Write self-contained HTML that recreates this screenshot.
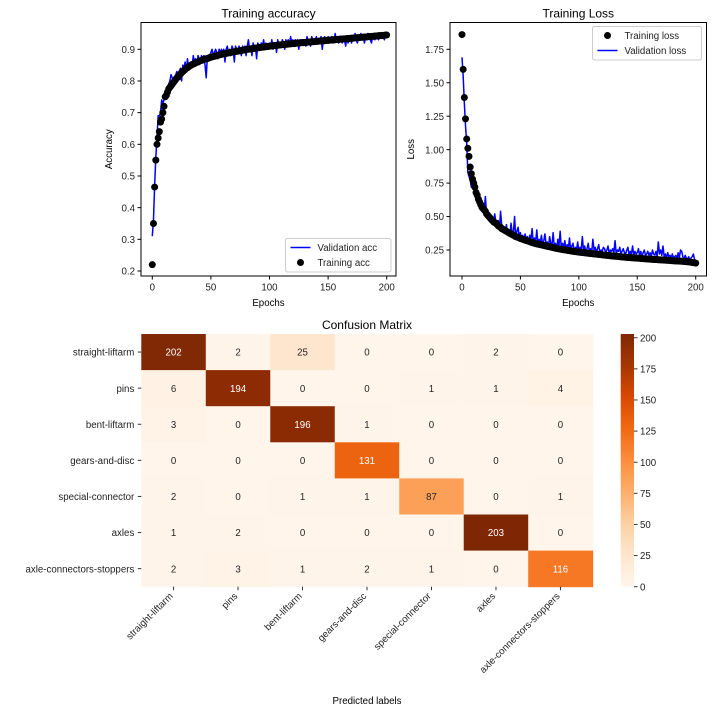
<!DOCTYPE html>
<html><head><meta charset="utf-8">
<style>
html,body{margin:0;padding:0;background:#fff;}
svg{display:block;font-family:"Liberation Sans","DejaVu Sans",sans-serif;}
</style></head>
<body>
<svg id="fig" width="712" height="712" viewBox="0 0 712 712" xmlns="http://www.w3.org/2000/svg"></svg>
<script>
const trainAcc=[.22,.35,.465,.55,.60,.62,.64,.67,.68,.70,
.72,.75,.755,.765,.775,.78,.785,.79,.795,.80,
.805,.81,.812,.818,.822,.826,.83,.833,.836,.84,
.842,.845,.847,.85,.852,.853,.855,.857,.859,.86,
.862,.864,.865,.866,.868,.869,.87,.871,.872,.874,
.875,.876,.877,.878,.879,.88,.881,.882,.883,.884,
.885,.886,.886,.887,.888,.889,.889,.89,.891,.892,
.892,.893,.894,.894,.895,.896,.896,.897,.898,.898,
.899,.9,.9,.901,.901,.902,.902,.903,.904,.904,
.905,.905,.906,.906,.907,.907,.908,.908,.909,.909,
.91,.91,.911,.911,.912,.912,.912,.913,.913,.914,
.914,.915,.915,.915,.916,.916,.917,.917,.917,.918,
.918,.918,.919,.919,.92,.92,.92,.921,.921,.921,
.922,.922,.922,.923,.923,.923,.924,.924,.924,.925,
.925,.925,.926,.926,.926,.927,.927,.927,.928,.928,
.928,.929,.929,.929,.93,.93,.93,.931,.931,.931,
.932,.932,.932,.933,.933,.933,.934,.934,.934,.935,
.935,.935,.936,.936,.936,.937,.937,.937,.938,.938,
.938,.939,.939,.939,.94,.94,.94,.941,.941,.941,
.942,.942,.942,.943,.943,.943,.944,.944,.944,.945,.945];
const valAcc=[.31,.36,.47,.56,.62,.69,.69,.70,.74,.73,
.74,.75,.76,.78,.79,.80,.82,.81,.80,.79,
.82,.83,.82,.83,.84,.80,.85,.84,.86,.83,
.87,.84,.85,.86,.85,.88,.86,.87,.85,.88,
.87,.86,.88,.87,.88,.85,.81,.88,.87,.88,
.89,.90,.88,.89,.90,.89,.87,.90,.89,.90,
.89,.90,.86,.90,.91,.89,.90,.88,.91,.90,
.86,.91,.90,.89,.91,.90,.88,.91,.90,.91,
.88,.91,.93,.90,.91,.88,.92,.90,.91,.87,
.92,.91,.90,.92,.91,.93,.90,.92,.91,.90,
.92,.91,.93,.90,.92,.92,.89,.93,.91,.92,
.91,.93,.92,.90,.93,.92,.93,.91,.94,.92,
.93,.91,.93,.92,.93,.90,.93,.92,.93,.92,
.93,.91,.94,.92,.93,.91,.94,.93,.92,.93,
.94,.92,.93,.93,.94,.90,.93,.94,.92,.93,
.94,.92,.93,.94,.93,.92,.95,.93,.94,.92,
.93,.94,.92,.94,.93,.91,.94,.92,.93,.94,
.92,.94,.93,.95,.93,.92,.94,.93,.95,.93,
.94,.92,.94,.93,.95,.94,.93,.92,.94,.95,
.93,.94,.95,.93,.94,.94,.95,.94,.93,.95,.94];
const trainLoss=[1.86,1.60,1.39,1.23,1.08,1.01,.95,.87,.82,.78,
.75,.72,.68,.66,.63,.61,.59,.57,.56,.55,
.54,.52,.51,.50,.49,.48,.47,.46,.455,.45,
.44,.43,.425,.42,.41,.405,.40,.395,.39,.385,
.38,.375,.37,.365,.36,.355,.35,.347,.344,.34,
.336,.333,.33,.327,.324,.321,.318,.315,.312,.309,
.306,.303,.30,.298,.296,.294,.292,.29,.288,.286,
.284,.282,.28,.278,.276,.274,.272,.27,.268,.266,
.264,.262,.26,.258,.257,.255,.254,.252,.251,.249,
.248,.246,.245,.243,.242,.241,.239,.238,.237,.236,
.234,.233,.232,.231,.23,.229,.228,.227,.226,.225,
.224,.223,.222,.221,.22,.219,.218,.217,.216,.215,
.214,.213,.212,.211,.21,.209,.208,.207,.206,.205,
.204,.203,.203,.202,.201,.2,.199,.198,.198,.197,
.196,.195,.195,.194,.193,.192,.192,.191,.19,.19,
.189,.188,.188,.187,.186,.186,.185,.184,.184,.183,
.182,.182,.181,.18,.18,.179,.179,.178,.177,.177,
.176,.176,.175,.174,.174,.173,.173,.172,.172,.171,
.17,.17,.169,.169,.168,.168,.167,.167,.166,.166,
.165,.164,.163,.162,.161,.16,.158,.157,.156,.155,.152];
const valLoss=[1.69,1.55,1.35,1.18,1.05,.83,.80,.77,.72,.74,
.71,.70,.66,.65,.62,.58,.56,.54,.60,.55,
.65,.52,.50,.51,.48,.47,.50,.44,.52,.46,
.42,.47,.40,.54,.43,.39,.41,.38,.44,.37,
.40,.36,.45,.37,.38,.50,.34,.39,.42,.35,
.38,.33,.36,.32,.37,.33,.35,.30,.36,.33,
.41,.30,.34,.31,.40,.29,.33,.30,.36,.28,
.32,.37,.29,.31,.27,.35,.30,.28,.38,.27,
.30,.26,.33,.28,.39,.26,.30,.27,.32,.25,
.29,.26,.34,.25,.28,.30,.24,.27,.25,.31,
.24,.27,.25,.35,.24,.28,.23,.26,.30,.24,
.26,.23,.33,.25,.27,.23,.26,.29,.23,.25,
.24,.27,.26,.23,.25,.28,.22,.25,.24,.26,
.23,.32,.22,.25,.24,.27,.22,.24,.26,.23,
.22,.25,.27,.21,.24,.22,.28,.21,.24,.22,
.23,.26,.21,.24,.20,.23,.25,.21,.22,.24,
.21,.23,.20,.25,.22,.21,.24,.20,.31,.22,
.25,.21,.28,.20,.22,.19,.23,.20,.21,.19,
.22,.19,.20,.21,.18,.23,.19,.25,.24,.20,
.18,.21,.19,.18,.20,.17,.19,.20,.22,.18,.17];
const classes=["straight-liftarm","pins","bent-liftarm","gears-and-disc","special-connector","axles","axle-connectors-stoppers"];
const matrix=[[202,2,25,0,0,2,0],[6,194,0,0,1,1,4],[3,0,196,1,0,0,0],[0,0,0,131,0,0,0],[2,0,1,1,87,0,1],[1,2,0,0,0,203,0],[2,3,1,2,1,0,116]];
const accTicks=[0.2,0.3,0.4,0.5,0.6,0.7,0.8,0.9];
const lossTicks=[0.25,0.5,0.75,1.0,1.25,1.5,1.75];
const epochTicks=[0,50,100,150,200];
const cbTicks=[0,25,50,75,100,125,150,175,200];

const FS=9.7, TS=12;
const NS="http://www.w3.org/2000/svg";
const fig=document.getElementById('fig');
function mk(tag,attrs,parent,txt){const e=document.createElementNS(NS,tag);for(const k in attrs)e.setAttribute(k,attrs[k]);if(txt!==undefined)e.textContent=txt;(parent||fig).appendChild(e);return e;}

function linePanel(o){
  const g=mk('g',{});
  
  
  const xs=v=>o.x0px+(v-0)*(o.x200px-o.x0px)/200;
  const ys=v=>o.yAp+(v-o.yA)*(o.yBp-o.yAp)/(o.yB-o.yA);
  let d='';o.line.forEach((v,i)=>{d+=(i?'L':'M')+xs(i).toFixed(2)+','+ys(v).toFixed(2);});
  const ln=mk('path',{d:d,fill:'none',stroke:'#0000ff','stroke-width':1.5,'stroke-linejoin':'round'},g);
  
  
  const pg=mk('g',{},g);
  
  
  o.dots.forEach((v,i)=>{mk('circle',{cx:xs(i),cy:ys(v),r:3.5,fill:'#000'},pg);});
  const fr=mk('rect',{x:o.L,y:o.T,width:o.R-o.L,height:o.B-o.T,fill:'none',stroke:'#000','stroke-width':1},g);
  
  
  epochTicks.forEach(t=>{const x=xs(t);mk('line',{x1:x,x2:x,y1:o.B,y2:o.B+3.5,stroke:'#000'},g);
    const tx=mk('text',{x:x,y:o.B+14.5,'font-size':FS,'text-anchor':'middle',fill:'#222'},g,String(t));
    });
  o.yticks.forEach(t=>{const y=ys(t);mk('line',{x1:o.L-3.5,x2:o.L,y1:y,y2:y,stroke:'#000'},g);
    const tx=mk('text',{x:o.L-6,y:y+3.6,'font-size':FS,'text-anchor':'end',fill:'#222'},g,o.fmt(t));
    });
  const tt=mk('text',{x:(o.L+o.R)/2,y:o.T-5,'font-size':TS,'text-anchor':'middle',fill:'#000'},g,o.title);
  
  const xl=mk('text',{x:(o.L+o.R)/2,y:o.B+30,'font-size':FS,'text-anchor':'middle',fill:'#000'},g,'Epochs');
  
  const yl=mk('text',{x:0,y:0,'font-size':FS,'text-anchor':'middle',fill:'#000',transform:`translate(${o.ylX},${(o.T+o.B)/2}) rotate(-90)`},g,o.ylabel);
  
  const lg=mk('g',{},g);
  
  
  const b=o.leg;
  mk('rect',{x:b.x,y:b.y,width:b.w,height:b.h,rx:2,fill:'#fff','fill-opacity':0.8,stroke:'#ccc'},lg);
  b.items.forEach((it,i)=>{const cy=b.y+9+i*15;
    if(it.type==='line')mk('line',{x1:b.x+5,x2:b.x+25,y1:cy,y2:cy,stroke:'#0000ff','stroke-width':1.5},lg);
    else mk('circle',{cx:b.x+15,cy:cy,r:3.5,fill:'#000'},lg);
    const t=mk('text',{x:b.x+32,y:cy+3.6,'font-size':FS,fill:'#222'},lg,it.label);
    });
}

linePanel({name:'accuracy-chart',L:141,R:396,T:22.5,B:276,x0px:152.3,x200px:386.7,yA:0.9,yAp:49.3,yB:0.2,yBp:271,
 line:valAcc,dots:trainAcc,lineName:'validation-acc-line',dotName:'training-acc-points',yticks:accTicks,fmt:t=>t.toFixed(1),
 title:'Training accuracy',ylabel:'Accuracy',ylX:112,
 leg:{x:285.5,y:238.5,w:105.5,h:33.5,items:[{type:'line',label:'Validation acc'},{type:'dot',label:'Training acc'}]}});
linePanel({name:'loss-chart',L:450,R:706.5,T:22.5,B:276,x0px:462,x200px:695.7,yA:1.75,yAp:49.3,yB:0.25,yBp:250,
 line:valLoss,dots:trainLoss,lineName:'validation-loss-line',dotName:'training-loss-points',yticks:lossTicks,fmt:t=>t.toFixed(2),
 title:'Training Loss',ylabel:'Loss',ylX:414,
 leg:{x:592.5,y:26.5,w:109,h:33.5,items:[{type:'dot',label:'Training loss'},{type:'line',label:'Validation loss'}]}});

const stops=[[255,245,235],[254,230,206],[253,208,162],[253,174,107],[253,141,60],[241,105,19],[217,72,1],[166,54,3],[127,39,4]];
function cmap(t){t=Math.max(0,Math.min(1,t));const p=t*8,i=Math.min(7,Math.floor(p)),f=p-i;const a=stops[i],b=stops[i+1];return [0,1,2].map(k=>Math.round(a[k]+(b[k]-a[k])*f));}
function lum(c){const l=c.map(v=>{v/=255;return v<=0.03928?v/12.92:Math.pow((v+0.055)/1.055,2.4);});return 0.2126*l[0]+0.7152*l[1]+0.0722*l[2];}
const HL=141.3,HT=334,HR=592.7,HB=586.7,vmax=203;
const cw=(HR-HL)/7,ch=(HB-HT)/7;
const hg=mk('g',{});


matrix.forEach((row,r)=>row.forEach((v,c)=>{
  const col=cmap(v/vmax);
  const rc=mk('rect',{x:HL+c*cw,y:HT+r*ch,width:cw+0.5,height:ch+0.5,fill:`rgb(${col})`},hg);
  
  
}));
matrix.forEach((row,r)=>row.forEach((v,c)=>{
  const col=cmap(v/vmax);
  const t=mk('text',{x:HL+(c+0.5)*cw,y:HT+(r+0.5)*ch+3.6,'font-size':FS,'text-anchor':'middle',fill:lum(col)>0.408?'#262626':'#ffffff'},hg,String(v));
  
  
}));
classes.forEach((name,i)=>{
  const y=HT+(i+0.5)*ch;
  mk('line',{x1:HL-3.5,x2:HL,y1:y,y2:y,stroke:'#333'},hg);
  const t=mk('text',{x:HL-7,y:y+3.6,'font-size':FS,'text-anchor':'end',fill:'#222'},hg,name);
  
  
  const x=HL+(i+0.5)*cw;
  mk('line',{x1:x,x2:x,y1:HB,y2:HB+3.5,stroke:'#333'},hg);
  const tx=mk('text',{x:0,y:0,'font-size':FS,'text-anchor':'end',fill:'#222',transform:`translate(${x},${HB+10}) rotate(-45)`},hg,name);
  
  
});
const ct=mk('text',{x:(HL+HR)/2,y:HT-5,'font-size':TS,'text-anchor':'middle',fill:'#000'},hg,'Confusion Matrix');


const pl=mk('text',{x:367,y:704,'font-size':FS,'text-anchor':'middle',fill:'#000'},hg,'Predicted labels');


const CL=620.7,CR=634,CT=334,CB=586.7;
const defs=mk('defs',{});
const grad=mk('linearGradient',{id:'cbg',x1:0,y1:1,x2:0,y2:0},defs);
for(let i=0;i<=16;i++){const c=cmap(i/16);mk('stop',{offset:(i/16),'stop-color':`rgb(${c})`},grad);}
const cb=mk('g',{});


mk('rect',{x:CL,y:CT,width:CR-CL,height:CB-CT,fill:'url(#cbg)'},cb);
cbTicks.forEach(t=>{const y=CB-(t/vmax)*(CB-CT);
  mk('line',{x1:CR,x2:CR+3.5,y1:y,y2:y,stroke:'#333'},cb);
  const tx=mk('text',{x:CR+6,y:y+3.6,'font-size':FS,fill:'#222'},cb,String(t));
  
  
});
</script>
</body></html>
